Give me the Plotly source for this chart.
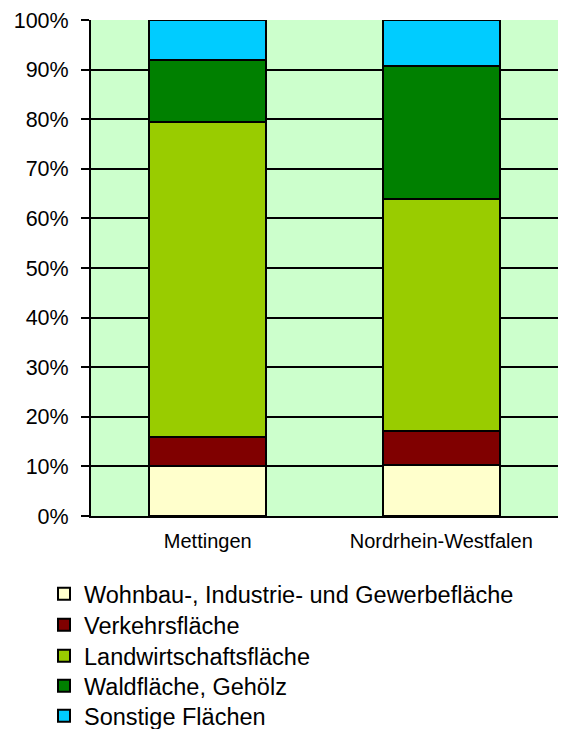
import plotly.graph_objects as go

categories = ["Mettingen", "Nordrhein-Westfalen"]
series_names = [
    "Wohnbau-, Industrie- und Gewerbefläche",
    "Verkehrsfläche",
    "Landwirtschaftsfläche",
    "Waldfläche, Gehölz",
    "Sonstige Flächen",
]
wohnbau = [10.1, 10.2]
verkehr = [5.9, 7.0]
landwirtschaft = [63.4, 46.8]
wald = [12.6, 26.7]
sonstige = [8.0, 9.3]
colors = ["#FFFFCC", "#800000", "#99CC00", "#008000", "#00CCFF"]
tick_vals = [0, 10, 20, 30, 40, 50, 60, 70, 80, 90, 100]
tick_text = [f"{v}%" for v in tick_vals]

series = [wohnbau, verkehr, landwirtschaft, wald, sonstige]

# page body has an 8px default margin; figure is sized to fit the window
W, H = 558, 721
PLOT_TOP, PLOT_BOTTOM = 20, 516  # screen pixels of plot area
legend_rows = [594, 625, 656, 686, 716]  # screen y of legend row centers

fig = go.Figure()
legend_ids = ["legend", "legend2", "legend3", "legend4", "legend5"]
for i, (name, vals, col) in enumerate(zip(series_names, series, colors)):
    fig.add_trace(go.Bar(
        x=categories, y=vals, name=name, legend=legend_ids[i],
        marker=dict(color=col, line=dict(color="black", width=2)),
        width=0.5,
    ))

layout_legends = {}
for lid, row in zip(legend_ids, legend_rows):
    layout_legends[lid] = dict(
        x=(44 - 91) / 467, y=(PLOT_BOTTOM - row) / (PLOT_BOTTOM - PLOT_TOP),
        xanchor="left", yanchor="middle",
        font=dict(size=23.5, family="Liberation Sans, Arial, sans-serif", color="black"),
        bgcolor="rgba(0,0,0,0)",
    )

fig.update_layout(
    width=W, height=H,
    barmode="stack",
    paper_bgcolor="white",
    plot_bgcolor="#CCFFCC",
    margin=dict(l=83, r=8, t=PLOT_TOP - 8, b=213, autoexpand=False),
    font=dict(family="Liberation Sans, Arial, sans-serif", color="black"),
    showlegend=True,
    **layout_legends,
)
fig.update_yaxes(
    range=[0, 100], tickvals=tick_vals, ticktext=tick_text,
    showgrid=True, gridcolor="black", gridwidth=2,
    showline=True, linecolor="black", linewidth=2,
    ticks="outside", ticklen=8, tickwidth=2, tickcolor="black",
    tickfont=dict(size=21.5), zeroline=False, ticklabelstandoff=8,
    ticklabeloverflow="allow",
)
fig.update_xaxes(
    showline=True, linecolor="black", linewidth=2,
    ticks="", tickfont=dict(size=20), tickangle=0, ticklabelstandoff=6,
)
fig.write_html("out.html")
